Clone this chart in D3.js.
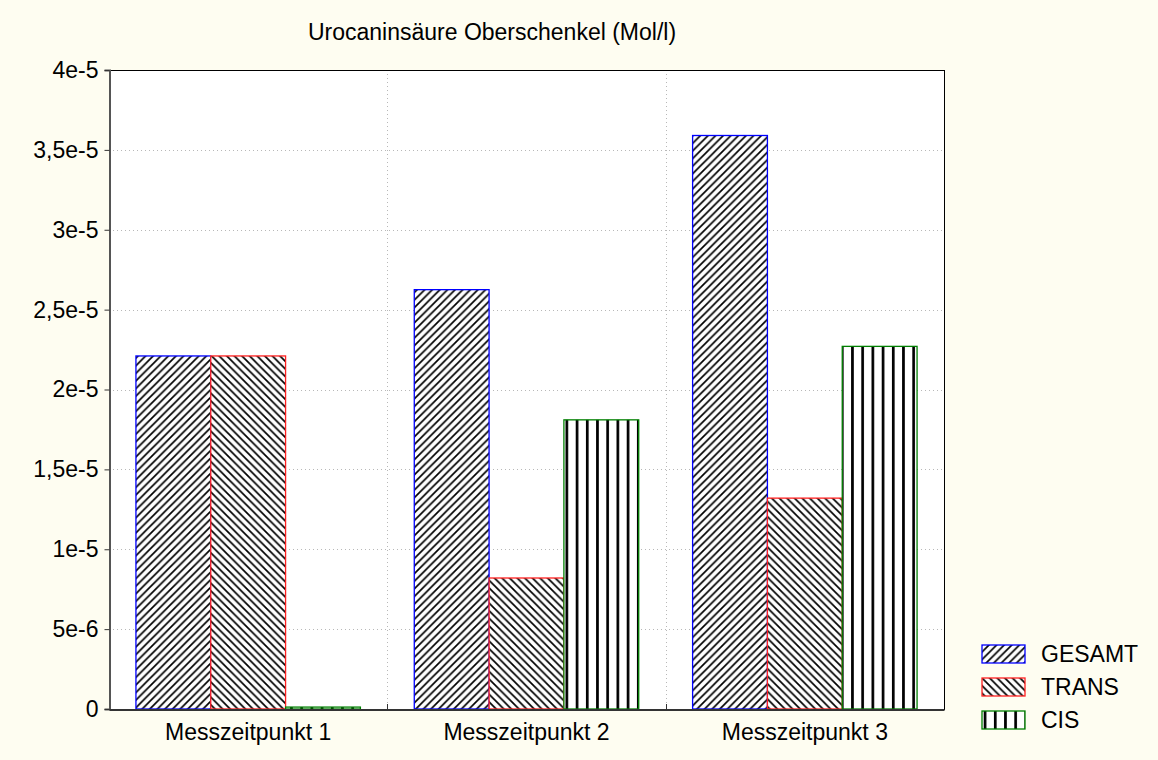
<!DOCTYPE html>
<html>
<head>
<meta charset="utf-8">
<script src="https://cdn.jsdelivr.net/npm/d3@7"></script>
<style>
  html, body { margin: 0; padding: 0; background: #fefdf1; }
  svg { display: block; }
  text { font-family: "Liberation Sans", Arial, sans-serif; fill: #000; }
</style>
</head>
<body>
<svg id="chart" width="1158" height="760"></svg>
<script>
const categories = ["Messzeitpunkt 1", "Messzeitpunkt 2", "Messzeitpunkt 3"];
const seriesNames = ["GESAMT", "TRANS", "CIS"];
const gesamt = [2.21e-5, 2.625e-5, 3.59e-5];
const trans = [2.21e-5, 0.82e-5, 1.32e-5];
const cis = [1.2e-7, 1.81e-5, 2.27e-5];
const yTickValues = [0, 5e-6, 1e-5, 1.5e-5, 2e-5, 2.5e-5, 3e-5, 3.5e-5, 4e-5];
const yTickLabels = ["0", "5e-6", "1e-5", "1,5e-5", "2e-5", "2,5e-5", "3e-5", "3,5e-5", "4e-5"];
const titleText = "Urocaninsäure Oberschenkel (Mol/l)";

const seriesValues = [gesamt, trans, cis];
const strokeColors = ["#0000ff", "#ff2020", "#008000"];
const patternIds = ["pGesamt", "pTrans", "pCis"];
const FS = 23;

const svg = d3.select("#chart");
const W = 1158, H = 760;
const m = { left: 109, right: 944, top: 70, bottom: 709 };

svg.append("rect").attr("width", W).attr("height", H).attr("fill", "#fefdf1");

const defs = svg.append("defs");
const P = 7.6;
const p1 = defs.append("pattern").attr("id", "pGesamt").attr("patternUnits", "userSpaceOnUse")
  .attr("width", P).attr("height", P);
p1.append("rect").attr("width", P).attr("height", P).attr("fill", "#fff");
p1.append("path").attr("d", `M-1,${P + 1} L${P + 1},-1 M-1,1 L1,-1 M${P - 1},${P + 1} L${P + 1},${P - 1}`)
  .attr("stroke", "#000").attr("stroke-width", 1.7);
const p2 = defs.append("pattern").attr("id", "pTrans").attr("patternUnits", "userSpaceOnUse")
  .attr("width", P).attr("height", P);
p2.append("rect").attr("width", P).attr("height", P).attr("fill", "#fff");
p2.append("path").attr("d", `M-1,-1 L${P + 1},${P + 1} M${P - 1},-1 L${P + 1},1 M-1,${P - 1} L1,${P + 1}`)
  .attr("stroke", "#000").attr("stroke-width", 1.7);
const p3 = defs.append("pattern").attr("id", "pCis").attr("patternUnits", "userSpaceOnUse")
  .attr("width", 10.2).attr("height", 10).attr("x", 4.5);
p3.append("rect").attr("width", 10.2).attr("height", 10).attr("fill", "#fff");
p3.append("rect").attr("x", 0).attr("width", 2.7).attr("height", 10).attr("fill", "#000");

svg.append("rect").attr("x", m.left).attr("y", m.top)
  .attr("width", m.right - m.left).attr("height", m.bottom - m.top).attr("fill", "#fff");

const x = d3.scaleBand().domain(categories).range([m.left, m.right]).paddingInner(0).paddingOuter(0);
const xs = d3.scaleBand().domain(seriesNames).range([0, x.bandwidth()]).paddingInner(0).paddingOuter(0.36);
const y = d3.scaleLinear().domain([0, 4e-5]).range([m.bottom, m.top]);

const grid = svg.append("g");
grid.selectAll("line.h").data(yTickValues.slice(1, -1)).join("line")
  .attr("x1", m.left).attr("x2", m.right)
  .attr("y1", d => Math.round(y(d)) + 0.5).attr("y2", d => Math.round(y(d)) + 0.5)
  .attr("stroke", "#b8b8b8").attr("stroke-width", 1).attr("stroke-dasharray", "1,3");
grid.selectAll("line.v").data(categories.slice(1)).join("line")
  .attr("x1", d => Math.round(x(d)) + 0.5).attr("x2", d => Math.round(x(d)) + 0.5)
  .attr("y1", m.top).attr("y2", m.bottom)
  .attr("stroke", "#b8b8b8").attr("stroke-width", 1).attr("stroke-dasharray", "1,3");

const barData = [];
categories.forEach((c, i) => {
  seriesNames.forEach((s, j) => {
    barData.push({ c, s, j, v: seriesValues[j][i] });
  });
});
svg.append("g").selectAll("rect").data(barData).join("rect")
  .attr("x", d => x(d.c) + xs(d.s))
  .attr("y", d => y(d.v))
  .attr("width", xs.bandwidth())
  .attr("height", d => y(0) - y(d.v))
  .attr("fill", d => `url(#${patternIds[d.j]})`)
  .attr("stroke", d => strokeColors[d.j])
  .attr("stroke-width", 1.3);

svg.append("rect").attr("x", m.left + 0.5).attr("y", m.top + 0.5)
  .attr("width", m.right - m.left).attr("height", m.bottom - m.top)
  .attr("fill", "none").attr("stroke", "#000").attr("stroke-width", 1);

const yAxis = d3.axisLeft(y).tickValues(yTickValues)
  .tickFormat((d, i) => yTickLabels[i]).tickSize(5).tickPadding(6);
const ya = svg.append("g").attr("transform", `translate(${m.left + 0.5},0)`).call(yAxis);
ya.attr("font-size", null).attr("font-family", null);
ya.select(".domain").attr("stroke", "#555").attr("stroke-width", 2);
ya.selectAll(".tick line").attr("stroke", "#333");
ya.selectAll(".tick text").style("font-size", FS + "px").attr("fill", "#000");

const xAxis = d3.axisBottom(x).tickSize(0).tickPadding(14);
const xa = svg.append("g").attr("transform", `translate(0,${m.bottom + 0.5})`).call(xAxis);
xa.attr("font-size", null).attr("font-family", null);
xa.select(".domain").attr("stroke", "#333").attr("stroke-width", 2);
xa.selectAll(".tick text").style("font-size", FS + "px").attr("fill", "#000").attr("dy", "0.71em");
svg.append("g").selectAll("line").data(categories.slice(1)).join("line")
  .attr("x1", d => Math.round(x(d)) + 0.5).attr("x2", d => Math.round(x(d)) + 0.5)
  .attr("y1", m.bottom).attr("y2", m.bottom - 5).attr("stroke", "#333");

svg.append("text").attr("x", 492).attr("y", 40).attr("text-anchor", "middle")
  .style("font-size", FS + "px").text(titleText);

const lg = svg.append("g");
seriesNames.forEach((s, j) => {
  const yy = 645 + j * 33;
  lg.append("rect").attr("x", 982).attr("y", yy).attr("width", 43).attr("height", 18)
    .attr("fill", `url(#${patternIds[j]})`).attr("stroke", strokeColors[j]).attr("stroke-width", 1.3);
  lg.append("text").attr("x", 1041).attr("y", yy + 17).style("font-size", FS + "px").text(s);
});
</script>
</body>
</html>
